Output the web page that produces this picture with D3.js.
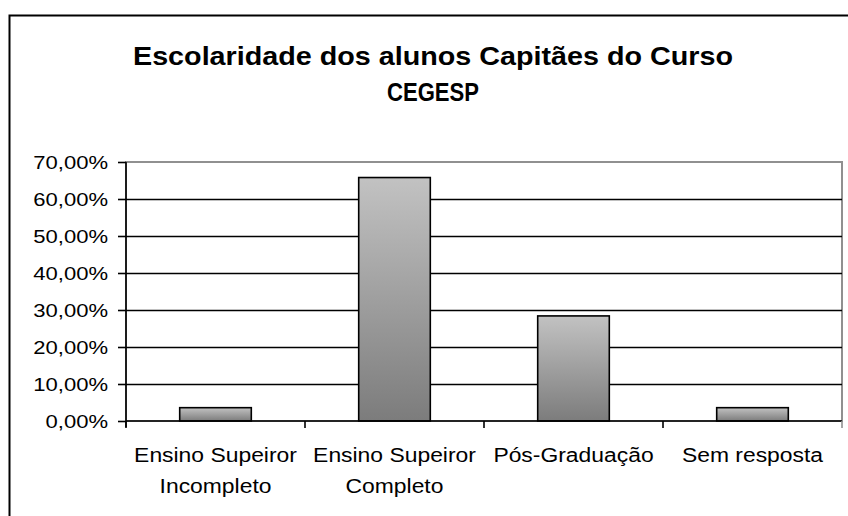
<!DOCTYPE html>
<html>
<head>
<meta charset="utf-8">
<script src="https://cdn.jsdelivr.net/npm/d3@7"></script>
<style>
body { margin: 0; background: #fff; }
text { font-family: "Liberation Sans", Arial, sans-serif; }
</style>
</head>
<body>
<div id="chart"></div>
<script>
var categories = [['Ensino Supeiror', 'Incompleto'], ['Ensino Supeiror', 'Completo'], ['Pós-Graduação'], ['Sem resposta']];
var values = [3.6, 65.8, 28.4, 3.6];
var yTicks = [0, 10, 20, 30, 40, 50, 60, 70];
var titleLines = ['Escolaridade dos alunos Capitães do Curso', 'CEGESP'];

var width = 848;
var height = 516;
var margin = {left: 126, right: 6, top: 162, bottom: 95};
var plotW = width - margin.left - margin.right;
var plotH = height - margin.top - margin.bottom;
var tickSx = 1.16;
var catSx = 1.09;
var titleLen = [600, 92];

var svg = d3.select('#chart')
	.append('svg')
	.attr('width', width)
	.attr('height', height);

// outer chart border (runs off the right and bottom edge)
svg.append('rect')
	.attr('x', 9.5)
	.attr('y', 15.5)
	.attr('width', 900)
	.attr('height', 600)
	.attr('fill', 'none')
	.attr('stroke', '#000')
	.attr('stroke-width', 2);

var defs = svg.append('defs');
var grad = defs.append('linearGradient')
	.attr('id', 'barGrad')
	.attr('x1', 0).attr('y1', 0)
	.attr('x2', 0).attr('y2', 1);
grad.append('stop').attr('offset', '0%').attr('stop-color', '#c2c2c2');
grad.append('stop').attr('offset', '100%').attr('stop-color', '#7c7c7c');

svg.selectAll('.title')
	.data(titleLines)
	.enter()
	.append('text')
	.attr('class', 'title')
	.attr('x', 433)
	.attr('y', function(d, i){ return 65 + i * 36; })
	.attr('text-anchor', 'middle')
	.attr('textLength', function(d, i){ return titleLen[i]; })
	.attr('lengthAdjust', 'spacingAndGlyphs')
	.style('font-size', '26px')
	.style('font-weight', 'bold')
	.text(function(d){ return d; });

var g = svg.append('g')
	.attr('transform', 'translate(' + margin.left + ',' + margin.top + ')');

var x = d3.scaleBand()
	.domain(d3.range(categories.length))
	.range([0, plotW])
	.paddingInner(0.6)
	.paddingOuter(0.3);

var xb = d3.scaleBand()
	.domain(d3.range(categories.length))
	.range([0, plotW]);

var y = d3.scaleLinear()
	.domain([0, 70])
	.range([plotH, 0]);

// plot border (gray)
g.append('rect')
	.attr('x', 0)
	.attr('y', 0)
	.attr('width', plotW)
	.attr('height', plotH)
	.attr('fill', 'none')
	.attr('stroke', '#909090')
	.attr('stroke-width', 2);

// gridlines
g.selectAll('.grid')
	.data(yTicks.filter(function(d){ return d > 0 && d < 70; }))
	.enter()
	.append('line')
	.attr('x1', 0)
	.attr('x2', plotW)
	.attr('y1', function(d){ return Math.round(y(d)) + 0.5; })
	.attr('y2', function(d){ return Math.round(y(d)) + 0.5; })
	.attr('stroke', '#000')
	.attr('stroke-width', 1.6);

// bars
g.selectAll('.bar')
	.data(values)
	.enter()
	.append('rect')
	.attr('x', function(d, i){ return x(i); })
	.attr('y', function(d){ return y(d); })
	.attr('width', x.bandwidth())
	.attr('height', function(d){ return plotH - y(d); })
	.attr('fill', 'url(#barGrad)')
	.attr('stroke', '#000')
	.attr('stroke-width', 1.6);

// y axis
var yAxis = d3.axisLeft(y)
	.tickValues(yTicks)
	.tickSize(8)
	.tickPadding(12)
	.tickFormat(function(d){ return d3.format('.2f')(d).replace('.', ',') + '%'; });

var ya = g.append('g').call(yAxis);
ya.select('.domain').attr('stroke', '#000').attr('stroke-width', 1.6).attr('d', 'M0,0V' + (plotH + 6));
ya.selectAll('.tick line').attr('stroke', '#000').attr('stroke-width', 1.6);
ya.selectAll('.tick text')
	.attr('fill', '#000')
	.attr('x', -18 / tickSx)
	.attr('transform', 'scale(' + tickSx + ',1)')
	.style('font-size', '19px')
	.style('font-family', '"Liberation Sans", Arial, sans-serif');

// x axis line and boundary ticks
g.append('line')
	.attr('x1', 0).attr('x2', plotW)
	.attr('y1', plotH).attr('y2', plotH)
	.attr('stroke', '#000')
	.attr('stroke-width', 1.6);

g.selectAll('.xtick')
	.data(d3.range(categories.length + 1))
	.enter()
	.append('line')
	.attr('x1', function(d){ return d * xb.bandwidth(); })
	.attr('x2', function(d){ return d * xb.bandwidth(); })
	.attr('y1', plotH)
	.attr('y2', plotH + 7)
	.attr('stroke', function(d){ return d === categories.length ? '#909090' : '#000'; })
	.attr('stroke-width', 1.6);

var labels = g.selectAll('.xlab')
	.data(categories)
	.enter()
	.append('g')
	.attr('transform', function(d, i){ return 'translate(' + (xb(i) + xb.bandwidth() / 2) + ',' + (plotH + 41) + ')'; })
	.append('text')
	.attr('text-anchor', 'middle')
	.attr('transform', 'scale(' + catSx + ',1)')
	.style('font-size', '21px');

labels.selectAll('tspan')
	.data(function(d){ return d; })
	.enter()
	.append('tspan')
	.attr('x', 0)
	.attr('dy', function(d, j){ return j === 0 ? 0 : 31; })
	.text(function(d){ return d; });
</script>
</body>
</html>
